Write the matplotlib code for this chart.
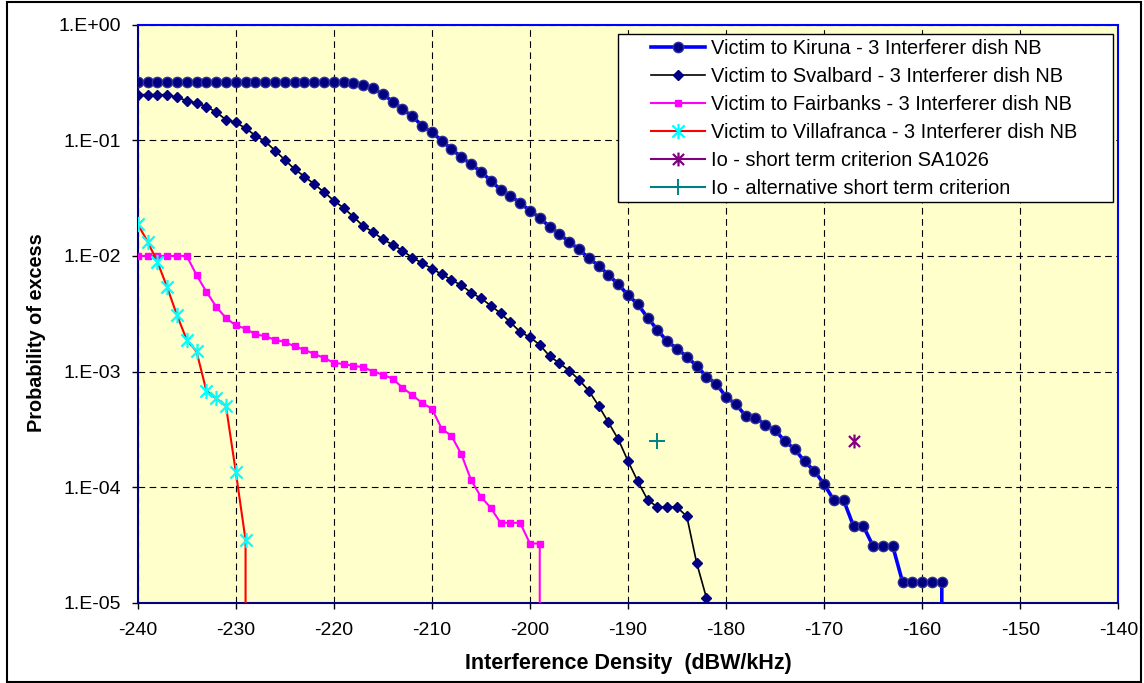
import matplotlib
matplotlib.use("Agg")
import matplotlib.pyplot as plt
import numpy as np
from matplotlib.patches import Rectangle
from matplotlib.path import Path
from matplotlib.lines import Line2D
from matplotlib.ticker import FixedLocator, FuncFormatter, NullLocator

plt.rcParams['font.family'] = ['Liberation Sans', 'DejaVu Sans']

# ---------------- data ----------------
kiruna_x = list(range(-240, -156))
kiruna_y = [0.32] * 22 + [
    0.313, 0.303, 0.281, 0.251, 0.216, 0.186, 0.161, 0.134, 0.117, 0.0996,
    0.0839, 0.0716, 0.0622, 0.0534, 0.0449, 0.0373, 0.0333, 0.0286, 0.0247, 0.0213,
    0.0179, 0.0155, 0.0132, 0.0114, 0.00955, 0.00824, 0.00685, 0.00569, 0.00459, 0.00382,
    0.00292, 0.00229, 0.00182, 0.00158, 0.00134, 0.00112, 0.000902, 0.000780, 0.000605, 0.000520,
    0.000414, 0.000398, 0.000346, 0.000310, 0.000250, 0.000213, 0.000167, 0.000138, 0.000106, 7.67e-5,
    7.67e-5, 4.59e-5, 4.59e-5, 3.08e-5, 3.08e-5, 3.08e-5, 1.51e-5, 1.51e-5, 1.51e-5, 1.51e-5,
    1.51e-5, 0.0]

svalbard_x = list(range(-240, -180))
svalbard_y = [
    0.248, 0.248, 0.248, 0.248, 0.236, 0.220, 0.210, 0.196, 0.175, 0.151,
    0.143, 0.127, 0.110, 0.0977, 0.0816, 0.0678, 0.0563, 0.0486, 0.0418, 0.0356,
    0.0301, 0.0260, 0.0218, 0.0181, 0.0161, 0.0139, 0.0125, 0.0111, 0.00967, 0.00867,
    0.00775, 0.00694, 0.00620, 0.00557, 0.00481, 0.00430, 0.00372, 0.00319, 0.00267, 0.00220,
    0.00198, 0.00170, 0.00136, 0.00118, 0.00102, 0.000849, 0.000682, 0.000506, 0.000363, 0.000260,
    0.000168, 0.000112, 7.77e-5, 6.71e-5, 6.71e-5, 6.71e-5, 5.57e-5, 2.21e-5, 1.10e-5, 0.0]

fairbanks_x = list(range(-240, -197))
fairbanks_y = [
    0.01, 0.01, 0.01, 0.01, 0.01, 0.01, 0.00681, 0.00491, 0.00364, 0.00290,
    0.00251, 0.00235, 0.00210, 0.00202, 0.00188, 0.00180, 0.00165, 0.00154, 0.00142, 0.00131,
    0.00119, 0.00116, 0.00112, 0.00109, 0.00100, 0.000938, 0.000867, 0.000724, 0.000626, 0.000534,
    0.000477, 0.000320, 0.000277, 0.000193, 0.000115, 8.24e-5, 6.62e-5, 4.91e-5, 4.91e-5, 4.91e-5,
    3.25e-5, 3.25e-5, 0.0]

villa_x = list(range(-240, -227))
villa_y = [0.0189, 0.0133, 0.00893, 0.00536, 0.00308, 0.00188, 0.00149, 0.000682,
           0.000586, 0.000503, 0.000136, 3.48e-5, 0.0]

io_sa1026_x = [-167]
io_sa1026_y = [2.5e-4]
io_alt_x = [-187]
io_alt_y = [2.5e-4]

labels = ["Victim to Kiruna - 3 Interferer dish NB",
          "Victim to Svalbard - 3 Interferer dish NB",
          "Victim to Fairbanks - 3 Interferer dish NB",
          "Victim to Villafranca - 3 Interferer dish NB",
          "Io - short term criterion SA1026",
          "Io - alternative short term criterion"]

x_ticks = list(range(-240, -139, 10))
y_ticks = [1e0, 1e-1, 1e-2, 1e-3, 1e-4, 1e-5]
y_ticklabels = ["1.E+00", "1.E-01", "1.E-02", "1.E-03", "1.E-04", "1.E-05"]

# ---------------- figure ----------------
W, H = 1144, 683
fig = plt.figure(figsize=(W / 100, H / 100), dpi=100)
L, R, T, B = 137.7, 1118.3, 24.7, 602.7
ax = fig.add_axes([L / W, 1 - B / H, (R - L) / W, (B - T) / H])
ax.set_facecolor('#FFFFCC')
ax.set_yscale('log')
ax.set_xlim(-240, -140)
ax.set_ylim(1e-5, 1e0)

# asterisk marker (X plus vertical)
star = Path([(0, -1), (0, 1), (-0.8, -0.8), (0.8, 0.8), (-0.8, 0.8), (0.8, -0.8)],
            [Path.MOVETO, Path.LINETO, Path.MOVETO, Path.LINETO, Path.MOVETO, Path.LINETO])

h1, = ax.plot(kiruna_x, kiruna_y, color='#0000FF', lw=2.6, marker='o', ms=7.4,
              mfc='#000080', mec='#30309A', mew=1.0, label=labels[0], zorder=5)
h2, = ax.plot(svalbard_x, svalbard_y, color='black', lw=1.2, marker='D', ms=4.8,
              mfc='#000080', mec='#000080', label=labels[1], zorder=4)
h3, = ax.plot(fairbanks_x, fairbanks_y, color='#FF00FF', lw=1.5, marker='s', ms=5,
              mfc='#FF00FF', mec='#FF00FF', label=labels[2], zorder=4)
h4, = ax.plot(villa_x, villa_y, color='#FF0000', lw=1.5, marker=star, ms=11,
              mec='#00FFFF', mfc='none', mew=1.6, label=labels[3], zorder=4)
ax.plot(io_sa1026_x, io_sa1026_y, ls='none', marker=star, ms=10,
        mec='#800080', mew=1.6, zorder=4)
ax.plot(io_alt_x, io_alt_y, ls='none', marker='+', ms=11,
        mec='#008080', mew=1.4, zorder=4)
# legend proxies (legend shows a line through the marker)
h5 = Line2D([], [], color='#800080', lw=1.5, marker=star, ms=10, mec='#800080', mew=1.6)
h6 = Line2D([], [], color='#008080', lw=1.5, marker='+', ms=11, mec='#008080', mew=1.4)

# ticks
ax.xaxis.set_major_locator(FixedLocator(x_ticks))
ax.yaxis.set_major_locator(FixedLocator(y_ticks))
ax.yaxis.set_minor_locator(NullLocator())
ax.yaxis.set_major_formatter(FuncFormatter(
    lambda v, p: y_ticklabels[int(np.argmin([abs(np.log10(t) - np.log10(v)) for t in y_ticks]))]))
ax.xaxis.set_major_formatter(FuncFormatter(lambda v, p: "%d" % v))
ax.tick_params(axis='x', direction='out', length=4, width=1, labelsize=14, pad=10, color='black')
ax.tick_params(axis='y', direction='out', length=4, width=1, labelsize=14, pad=8, color='black')

# grid
ax.grid(True, which='major', color='black', ls=(0, (6, 4)), lw=0.8)
ax.set_axisbelow(True)

for s in ['left', 'bottom']:
    ax.spines[s].set_color('#000080')
    ax.spines[s].set_linewidth(1.5)
for s in ['top', 'right']:
    ax.spines[s].set_color('#0000FF')
    ax.spines[s].set_linewidth(1.5)

# legend box
ax.add_patch(Rectangle((618 / W, 1 - 201.7 / H), (1113 - 618) / W, (201.7 - 34) / H,
                       transform=fig.transFigure, facecolor='white', edgecolor='black',
                       lw=1.0, zorder=10, clip_on=False))
leg = ax.legend(handles=[h1, h2, h3, h4, h5, h6], labels=labels, loc='upper left',
                bbox_to_anchor=(651 / W, 1 - 39 / H), bbox_transform=fig.transFigure,
                frameon=False, fontsize=14.4, handlelength=2.7, handletextpad=0.3,
                labelspacing=0.45, borderpad=0, borderaxespad=0, numpoints=1)
leg.set_zorder(11)

# axis labels
fig.text((L + R) / 2 / W, 1 - 664 / H, "Interference Density  (dBW/kHz)",
         ha='center', va='center', fontsize=15.5, fontweight='bold')
fig.text(37 / W, 1 - 333 / H, "Probability of excess", rotation=90,
         ha='center', va='center', fontsize=14.3, fontweight='bold')

# outer border
fig.patches.append(Rectangle((7 / W, 1.5 / H), (1141 - 7) / W, (681 - 1.5) / H,
                             transform=fig.transFigure, fill=False, edgecolor='black', lw=1.5))

fig.savefig("out.png", dpi=100)
